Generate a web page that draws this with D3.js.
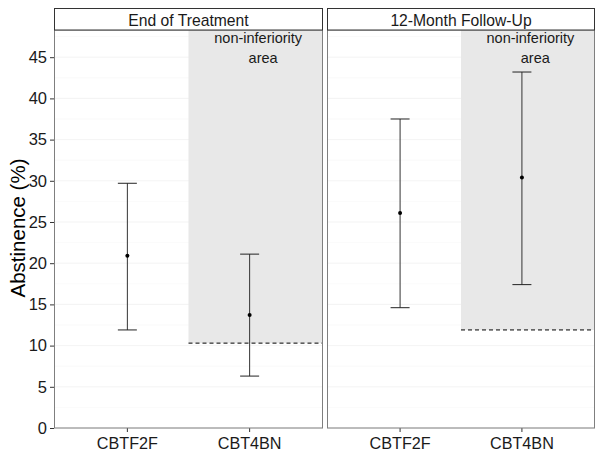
<!DOCTYPE html>
<html><head><meta charset="utf-8">
<script src="https://cdn.jsdelivr.net/npm/d3@7"></script>
<style>body{margin:0;background:#fff}svg{display:block;font-family:"Liberation Sans",Arial,sans-serif}</style>
</head><body><svg id="c" width="604" height="458"></svg>
<script>
const panels = ["End of Treatment", "12-Month Follow-Up"];
const categories = ["CBTF2F", "CBT4BN"];
const estimate = [[20.9, 13.7], [26.1, 30.4]];
const lower = [[11.9, 6.3], [14.6, 17.4]];
const upper = [[29.7, 21.1], [37.5, 43.2]];
const margin = [10.3, 11.9];
const yTicks = [0, 5, 10, 15, 20, 25, 30, 35, 40, 45];
const annotation = ["non-inferiority", "area"];

const svg = d3.select("#c");
const plotTop = 30, plotBottom = 428;
const panelX = [[54, 323], [327, 595]];
const y = d3.scaleLinear().domain([0, 48.3]).range([plotBottom, plotTop]);

panels.forEach((name, p) => {
  const [x0, x1] = panelX[p];
  const x = d3.scaleLinear().domain([0.4, 2.6]).range([x0, x1]);
  const g = svg.append("g");
  g.append("rect").attr("x", x0).attr("y", plotTop).attr("width", x1 - x0).attr("height", plotBottom - plotTop).attr("fill", "#fff");
  yTicks.forEach(t => {
    const m = t + 2.5;
    g.append("line").attr("x1", x0).attr("x2", x1).attr("y1", y(m)).attr("y2", y(m)).attr("stroke", "#f7f7f7").attr("stroke-width", 0.6);
    g.append("line").attr("x1", x0).attr("x2", x1).attr("y1", y(t)).attr("y2", y(t)).attr("stroke", "#f0f0f0").attr("stroke-width", 0.8);
  });
  g.append("rect").attr("x", x(1.5)).attr("y", plotTop).attr("width", x1 - x(1.5))
    .attr("height", y(margin[p]) - plotTop).attr("fill", "#e8e8e8");
  g.append("line").attr("x1", x(1.5)).attr("x2", x1).attr("y1", y(margin[p])).attr("y2", y(margin[p]))
    .attr("stroke", "#000").attr("stroke-width", 1).attr("stroke-dasharray", "4,3");
  annotation.forEach((t, i) => {
    g.append("text").attr("x", x(i === 0 ? 2.07 : 2.11)).attr("y", 43 + i * 20).attr("text-anchor", "middle")
      .attr("font-size", 14.5).attr("fill", "#1a1a1a").text(t);
  });
  categories.forEach((c, i) => {
    const cx = x(i + 1);
    g.append("line").attr("x1", cx).attr("x2", cx).attr("y1", y(lower[p][i])).attr("y2", y(upper[p][i])).attr("stroke", "#333").attr("stroke-width", 1);
    [lower[p][i], upper[p][i]].forEach(v => {
      g.append("line").attr("x1", cx - 9.5).attr("x2", cx + 9.5).attr("y1", y(v)).attr("y2", y(v)).attr("stroke", "#222").attr("stroke-width", 1);
    });
    g.append("circle").attr("cx", cx).attr("cy", y(estimate[p][i])).attr("r", 2).attr("fill", "#000");
    g.append("line").attr("x1", cx).attr("x2", cx).attr("y1", plotBottom).attr("y2", plotBottom + 4).attr("stroke", "#333");
    g.append("text").attr("x", cx).attr("y", 449).attr("text-anchor", "middle").attr("font-size", 16.2).attr("fill", "#1a1a1a").text(c);
  });
  g.append("rect").attr("x", x0 + 0.5).attr("y", plotTop).attr("width", x1 - x0 - 1).attr("height", plotBottom - plotTop).attr("fill", "none").attr("stroke", "#7f7f7f").attr("stroke-width", 1);
  g.append("rect").attr("x", x0 + 0.5).attr("y", 8.5).attr("width", x1 - x0 - 1).attr("height", plotTop - 8.5).attr("fill", "#fff").attr("stroke", "#333").attr("stroke-width", 1);
  g.append("text").attr("x", (x0 + x1) / 2).attr("y", 26).attr("text-anchor", "middle").attr("font-size", 15.7).attr("fill", "#1a1a1a").text(name);
});

const ya = svg.append("g").attr("transform", `translate(${panelX[0][0]},0)`)
  .call(d3.axisLeft(y).tickValues(yTicks).tickSize(4).tickPadding(3));
ya.select(".domain").remove();
ya.selectAll(".tick line").attr("stroke", "#333");
ya.selectAll(".tick text").attr("font-size", 16.5).attr("fill", "#1a1a1a").attr("font-family", "Liberation Sans, Arial, sans-serif");
svg.append("text").attr("transform", `translate(25,228) rotate(-90)`).attr("text-anchor", "middle")
  .attr("font-size", 20.5).attr("fill", "#000").text("Abstinence (%)");
</script></body></html>
